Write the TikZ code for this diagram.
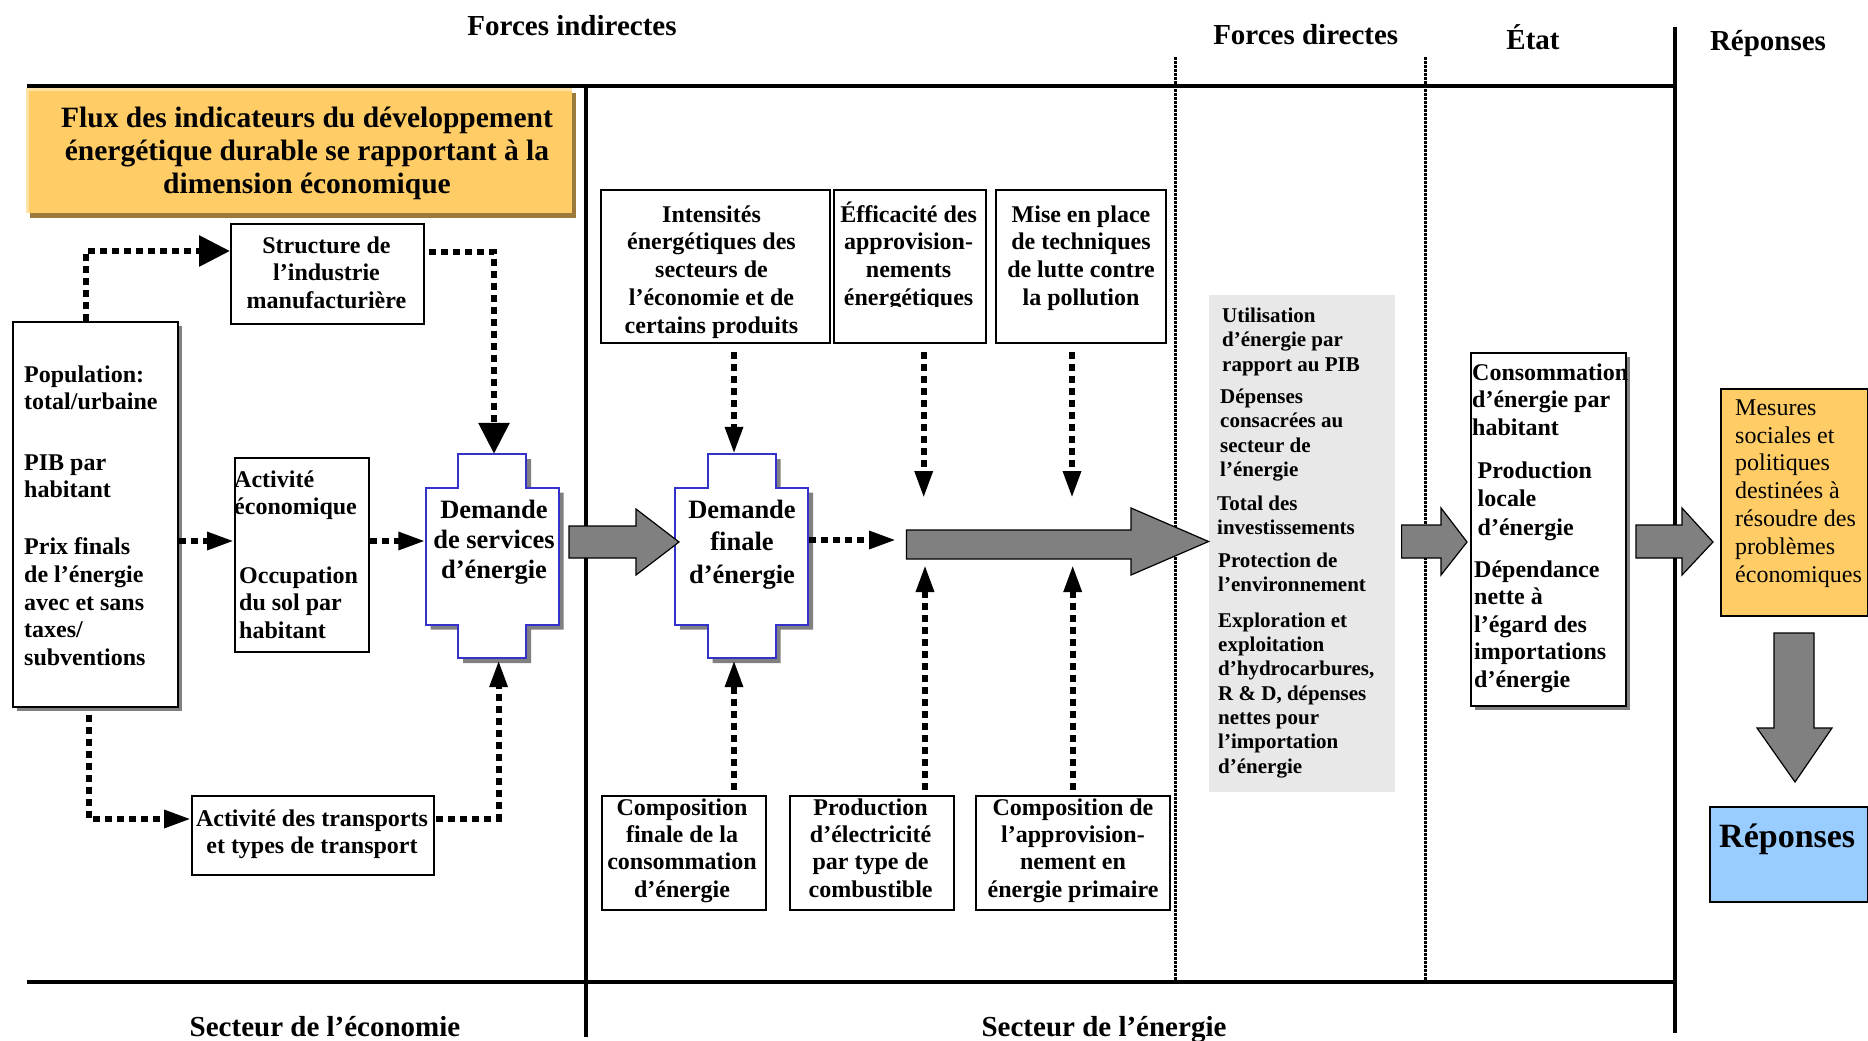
\documentclass[tikz,border=0pt]{standalone}
\usepackage{fontspec}
\setmainfont{Liberation Serif}
\usetikzlibrary{arrows.meta,calc}
\definecolor{orangefill}{HTML}{FFCC66}
\definecolor{orangelight}{HTML}{FFE3A6}
\definecolor{orangeshadow}{HTML}{9C7A3C}
\definecolor{shadowgray}{HTML}{808080}
\definecolor{crossblue}{HTML}{3333CC}
\definecolor{panelgray}{HTML}{E8E8E8}
\definecolor{bluefill}{HTML}{99CCFF}
\definecolor{arrowgray}{HTML}{808080}
\newcommand{\fsz}[2]{\fontsize{#1}{#2}\selectfont}
\newcommand{\st}{\rule{0pt}{0.95em}}
\newcommand{\crosspath}{(-34,-102) -- (34,-102) -- (34,-68.5) -- (66.5,-68.5) -- (66.5,68.5) -- (34,68.5) -- (34,102) -- (-34,102) -- (-34,68.5) -- (-66.5,68.5) -- (-66.5,-68.5) -- (-34,-68.5) -- cycle}
\newcommand{\crossat}[2]{%
  \begin{scope}[shift={(#1+5,#2+5)}]\fill[shadowgray] \crosspath;\end{scope}
  \begin{scope}[shift={(#1,#2)}]\filldraw[fill=white,draw=crossblue,line width=2pt] \crosspath;\end{scope}}
\tikzset{
  frameline/.style={line width=4pt},
  thindot/.style={line width=3pt, dash pattern=on 2.7pt off 1.3pt},
  boxd/.style={draw=black, line width=2.2pt, fill=white, inner sep=0, anchor=north west},
  hidden/.style={inner sep=0, anchor=north west},
  tb/.style={inner sep=0, font=\fsz{24}{27.7}\bfseries},
  tl/.style={tb, align=left, anchor=north west},
  tc/.style={tb, align=center, anchor=north},
  tg/.style={inner sep=0, font=\fsz{21}{24.5}\bfseries, align=left, anchor=north west},
  hdr/.style={inner sep=0, font=\fsz{29}{33}\bfseries, anchor=base},
  dotc/.style={line width=6pt, dash pattern=on 7pt off 5pt, -{Triangle[length=27pt,width=17pt]}},
  dotbig/.style={line width=6pt, dash pattern=on 7pt off 5pt, -{Triangle[length=31pt,width=30pt]}},
  garrow/.style={fill=arrowgray, draw=black, line width=1.2pt, line join=miter},
}
\begin{document}
\begin{tikzpicture}[x=1pt,y=-1pt]
\useasboundingbox (0,0) rectangle (1868,1041);

% ---------- frame lines ----------
\draw[frameline] (27,86) -- (1675,86);
\draw[frameline] (27,982) -- (1675,982);
\draw[frameline] (585.5,86) -- (585.5,1037);
\draw[frameline] (1675,27) -- (1675,1033);
\draw[thindot] (1175,57) -- (1175,982);
\draw[thindot] (1425.6,57) -- (1425.6,982);

% ---------- headers ----------
\node[hdr] (h1) at (572,35.7) {Forces indirectes};
\node[hdr] (h2) at (1305.7,45) {Forces directes};
\node[hdr] (h3) at (1533,50) {État};
\node[hdr] (h4) at (1768,50.5) {Réponses};
\node[hdr] (h5) at (325,1036) {Secteur de l’économie};
\node[hdr] (h6) at (1104,1036) {Secteur de l’énergie};

% ---------- title box ----------
\fill[orangeshadow] (30,93) rectangle (576,218);
\node[hidden, fill=orangefill, minimum width=546, minimum height=125] (titlebox) at (26,88) {};
\draw[orangelight, line width=3pt] (27.5,213) -- (27.5,89.5) -- (572,89.5);
\node[inner sep=0, anchor=north, align=center, font=\fsz{29.5}{33.3}\bfseries] (titletxt) at (307,127-28)
  {\st Flux des indicateurs du développement\\énergétique durable se rapportant à la\\dimension économique};

% ---------- economy sector boxes ----------
\fill[shadowgray] (16.5,326) rectangle (182,711);
\node[boxd, minimum width=165.5, minimum height=385] (pop) at (11.5,321) {};
\node[tl] (p1) at (24,382-22.8) {\st Population:\\total/urbaine};
\node[tl] (p2) at (24,470-22.8) {\st PIB par\\habitant};
\node[tl] (p3) at (24,554.5-22.8) {\st Prix finals\\de l’énergie\\avec et sans\\taxes/\\subventions};

\node[boxd, minimum width=193, minimum height=100] (struct) at (230,223) {};
\node[tc] (structtxt) at (326.5,253-22.8) {\st Structure de\\l’industrie\\manufacturière};

\node[boxd, minimum width=134, minimum height=194] (act) at (234,457) {};
\node[tl, font=\fsz{24}{27}\bfseries] (a1) at (234,487.5-22.8) {\st Activité\\économique};
\node[tl] (a2) at (239,583-22.8) {\st Occupation\\du sol par\\habitant};

\node[boxd, minimum width=241.5, minimum height=79] (trans) at (191,795) {};
\node[tc] (transtxt) at (312,826-22.8) {\st Activité des transports\\et types de transport};

% ---------- cross shapes ----------
\crossat{492}{556}
\node[inner sep=0, minimum width=133, minimum height=204] (dse) at (492,556) {};
\node[inner sep=0, anchor=north, align=center, font=\fsz{26.5}{30.3}\bfseries] (dsetxt) at (494,518-25.2)
  {\st Demande\\de services\\d’énergie};
\crossat{741.5}{556}
\node[inner sep=0, minimum width=133, minimum height=204] (df) at (741.5,556) {};
\node[inner sep=0, anchor=north, align=center, font=\fsz{26.5}{32.5}\bfseries] (dftxt) at (742,518-25.2)
  {\st Demande\\finale\\d’énergie};

% ---------- energy sector boxes ----------
\node[boxd, minimum width=229.4, minimum height=153] (intens) at (599.6,189) {};
\node[tc, font=\fsz{24}{27.75}\bfseries] (intenstxt) at (711.5,222-22.8)
  {\st Intensités\\énergétiques des\\secteurs de\\l’économie et de\\certains produits};
\node[boxd, minimum width=152, minimum height=153] (effic) at (833,189) {};
\begin{scope}
  \clip (833,189) rectangle (985,306.5);
  \node[tc, font=\fsz{24}{27.75}\bfseries] (effictxt) at (908.6,222-22.8)
    {\st Éfficacité des\\approvision-\\nements\\énergétiques};
\end{scope}
\node[boxd, minimum width=169.5, minimum height=153] (mise) at (995,189) {};
\node[tc, font=\fsz{24}{27.75}\bfseries] (misetxt) at (1081,222-22.8)
  {\st Mise en place\\de techniques\\de lutte contre\\la pollution};

\node[boxd, minimum width=164, minimum height=114] (compf) at (601,795) {};
\node[tc, font=\fsz{24}{27.3}\bfseries] (compftxt) at (682,815-22.8)
  {\st Composition\\finale de la\\consommation\\d’énergie};
\node[boxd, minimum width=163.6, minimum height=114] (prod) at (789,795) {};
\node[tc, font=\fsz{24}{27.3}\bfseries] (prodtxt) at (870.6,815-22.8)
  {\st Production\\d’électricité\\par type de\\combustible};
\node[boxd, minimum width=194.3, minimum height=114] (compd) at (974.7,795) {};
\node[tc, font=\fsz{24}{27.3}\bfseries] (compdtxt) at (1073,815-22.8)
  {\st Composition de\\l’approvision-\\nement en\\énergie primaire};

% ---------- direct forces panel ----------
\node[hidden, fill=panelgray, minimum width=186, minimum height=497] (panel) at (1209,295) {};
\node[tg] (g1) at (1222,322-19.95) {\st Utilisation\\d’énergie par\\rapport au PIB};
\node[tg] (g2) at (1220,403-19.95) {\st Dépenses\\consacrées au\\secteur de\\l’énergie};
\node[tg] (g3) at (1217,510-19.95) {\st Total des\\investissements};
\node[tg] (g4) at (1218,567-19.95) {\st Protection de\\l’environnement};
\node[tg, font=\fsz{21}{24.3}\bfseries] (g5) at (1218,627-19.95)
  {\st Exploration et\\exploitation\\d’hydrocarbures,\\R \& D, dépenses\\nettes pour\\l’importation\\d’énergie};

% ---------- state box ----------
\fill[shadowgray] (1474.6,357) rectangle (1630,710);
\node[boxd, minimum width=155.4, minimum height=353] (etat) at (1469.6,352) {};
\node[tl] (e1) at (1472,380-22.8) {\st Consommation\\d’énergie par\\habitant};
\node[tl, font=\fsz{24}{28.5}\bfseries] (e2) at (1477.5,478-22.8) {\st Production\\locale\\d’énergie};
\node[tl, font=\fsz{24}{27.5}\bfseries] (e3) at (1474,577-22.8) {\st Dépendance\\nette à\\l’égard des\\importations\\d’énergie};

% ---------- responses ----------
\node[boxd, fill=orangefill, minimum width=147, minimum height=227] (mes) at (1719.7,388) {};
\node[inner sep=0, anchor=north west, align=left, font=\fsz{24}{27.8}] (mestxt) at (1735,415-22.8)
  {\st Mesures\\sociales et\\politiques\\destinées à\\résoudre des\\problèmes\\économiques};
\node[boxd, fill=bluefill, minimum width=157.5, minimum height=95] (rep) at (1709,806) {};
\node[inner sep=0, anchor=base west, font=\fsz{34}{38}\bfseries] (reptxt) at (1719,847) {Réponses};

% ---------- gray block arrows ----------
\draw[garrow] (569,526) -- (636,526) -- (636,509) -- (679,542) -- (636,575) -- (636,558) -- (569,558) -- cycle;
\draw[garrow] (906.5,530) -- (1131,530) -- (1131,508) -- (1208.6,541.5) -- (1131,575) -- (1131,559) -- (906.5,559) -- cycle;
\draw[garrow] (1401.6,525) -- (1441,525) -- (1441,508) -- (1467,542) -- (1441,575) -- (1441,558) -- (1401.6,558) -- cycle;
\draw[garrow] (1636,525) -- (1682,525) -- (1682,508) -- (1713,542) -- (1682,575) -- (1682,558) -- (1636,558) -- cycle;
\draw[garrow] (1774,633) -- (1814,633) -- (1814,728) -- (1832,728) -- (1795,782) -- (1757,728) -- (1774,728) -- cycle;

% ---------- named free ends on the long arrow ----------
\coordinate (ha) at (923.7,498);
\coordinate (ia) at (1072,498);
\coordinate (ja) at (896,540);
\coordinate (la) at (925,565);
\coordinate (ma) at (1072.7,565);

% ---------- dotted connectors ----------
\draw[dotbig] ($(pop.north west)+(74.5,0)$) |- ($(struct.north west)+(0,28)$);
\draw[dotbig] ($(struct.north east)+(4,29)$) -| ($(dse.north)+(2,0)$);
\draw[dotc] ($(pop.north east)+(0,220)$) -- ($(act.north west)+(0,84)$);
\draw[dotc] ($(act.north east)+(0,84)$) -- ($(dse.west)+(0,-15)$);
\draw[dotc] ($(pop.south west)+(77.5,7)$) |- ($(trans.north west)+(0,24)$);
\draw[dotc] ($(trans.north east)+(1.5,24)$) -| ($(dse.south)+(6.6,2)$);
\draw[dotc] ($(intens.south west)+(134.4,8)$) -- ($(df.north)+(-7.5,0)$);
\draw[dotc] ($(effic.south west)+(90.7,8)$) -- (ha);
\draw[dotc] ($(mise.south west)+(77,8)$) -- (ia);
\draw[dotc] ($(df.east)+(0.6,-16)$) -- (ja);
\draw[dotc] ($(compf.north west)+(133,-5)$) -- ($(df.south)+(-7.5,2)$);
\draw[dotc] ($(prod.north west)+(136,-5)$) -- (la);
\draw[dotc] ($(compd.north west)+(98,-5)$) -- (ma);
\end{tikzpicture}
\end{document}
